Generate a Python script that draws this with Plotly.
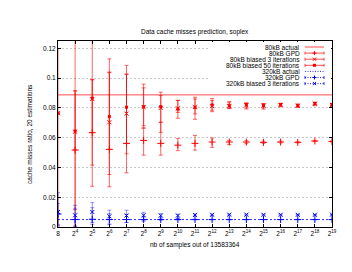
import math
import plotly.graph_objects as go

# ---------------- data ----------------
n_samples = [8, 16, 32, 64, 128, 256, 512, 1024, 2048, 4096, 8192, 16384,
             32768, 65536, 131072, 262144, 524288]
tick_text = ["8", "2<sup>4</sup>", "2<sup>5</sup>", "2<sup>6</sup>", "2<sup>7</sup>",
             "2<sup>8</sup>", "2<sup>9</sup>", "2<sup>10</sup>", "2<sup>11</sup>",
             "2<sup>12</sup>", "2<sup>13</sup>", "2<sup>14</sup>", "2<sup>15</sup>",
             "2<sup>16</sup>", "2<sup>17</sup>", "2<sup>18</sup>", "2<sup>19</sup>"]
y_ticks = [0, 0.02, 0.04, 0.06, 0.08, 0.1, 0.12]
y_tick_text = ["0", "0.02", "0.04", "0.06", "0.08", "0.1", "0.12"]

actual_80kb = 0.0888
actual_320kb = 0.0050

gpd_80_c = [None, 0.0517, 0.0634, 0.0522, 0.0562, 0.0582, 0.0562, 0.0550, 0.0562, 0.0571, 0.0571, 0.0571, 0.0569, 0.0571, 0.0569, 0.0578, 0.0575]
gpd_80_lo = [None, 0.0, 0.0274, 0.0270, 0.0364, 0.0483, 0.0483, 0.0513, 0.0517, 0.0535, 0.0555, 0.0560, 0.0562, 0.0565, 0.0565, 0.0574, 0.0572]
gpd_80_hi = [None, 0.13, 0.13, 0.1040, 0.1027, 0.0665, 0.0704, 0.0594, 0.0616, 0.0598, 0.0582, 0.0580, 0.0576, 0.0577, 0.0573, 0.0582, 0.0578]

b3_80_c = [0.0765, 0.0640, 0.0860, 0.0704, 0.0762, 0.0805, 0.0800, 0.0798, 0.0808, 0.0812, 0.0812, 0.0818, 0.0815, 0.0820, 0.0815, 0.0828, 0.0820]
b3_80_lo = [0.0010, 0.0117, 0.0416, 0.0353, 0.0492, 0.0665, 0.0636, 0.0770, 0.0760, 0.0785, 0.0795, 0.0800, 0.0800, 0.0808, 0.0805, 0.0815, 0.0810]
b3_80_hi = [0.1200, 0.0915, 0.0990, 0.1130, 0.1086, 0.0935, 0.0883, 0.0852, 0.0860, 0.0850, 0.0835, 0.0832, 0.0828, 0.0830, 0.0826, 0.0838, 0.0830]

b50_80_c = [0.0765, 0.0645, 0.0866, 0.0742, 0.0805, 0.0809, 0.0809, 0.0792, 0.0803, 0.0820, 0.0816, 0.0823, 0.0816, 0.0823, 0.0816, 0.0830, 0.0823]
b50_80_lo = [0.0765, 0.0520, 0.0634, 0.0522, 0.0562, 0.0681, 0.0704, 0.0731, 0.0724, 0.0775, 0.0798, 0.0793, 0.0792, 0.0812, 0.0808, 0.0822, 0.0815]
b50_80_hi = [0.0765, 0.0915, 0.0990, 0.1040, 0.1027, 0.0960, 0.0906, 0.0850, 0.0872, 0.0863, 0.0843, 0.0834, 0.0830, 0.0832, 0.0825, 0.0838, 0.0831]

gpd_320_c = [0.0087, 0.0050, 0.0052, 0.0050, 0.0050, 0.0050, 0.0050, 0.0050, 0.0050, 0.0050, 0.0050, 0.0050, 0.0050, 0.0050, 0.0050, 0.0050, 0.0050]
gpd_320_lo = [0.0016, 0.0007, 0.0030, 0.0020, 0.0030, 0.0041, 0.0045, 0.0047, 0.0048, 0.0048, 0.0049, 0.0049, 0.0049, 0.0049, 0.0049, 0.0049, 0.0049]
gpd_320_hi = [0.0158, 0.0126, 0.0130, 0.0090, 0.0085, 0.0068, 0.0060, 0.0056, 0.0053, 0.0052, 0.0052, 0.0051, 0.0051, 0.0051, 0.0051, 0.0051, 0.0051]

b3_320_c = [0.0101, 0.0079, 0.0101, 0.0072, 0.0077, 0.0079, 0.0077, 0.0077, 0.0081, 0.0082, 0.0083, 0.0083, 0.0082, 0.0082, 0.0082, 0.0082, 0.0083]
b3_320_lo = [0.0, 0.0, 0.0018, 0.0016, 0.0030, 0.0041, 0.0050, 0.0056, 0.0074, 0.0077, 0.0079, 0.0080, 0.0080, 0.0080, 0.0080, 0.0080, 0.0081]
b3_320_hi = [0.0232, 0.0146, 0.0164, 0.0113, 0.0113, 0.0099, 0.0090, 0.0086, 0.0088, 0.0087, 0.0087, 0.0086, 0.0085, 0.0085, 0.0084, 0.0084, 0.0085]

legend_labels = ["80kB actual", "80kB GPD", "80kB biased 3 iterations",
                 "80kB biased 50 iterations", "320kB actual", "320kB GPD",
                 "320kB biased 3 iterations"]

# ---------------- styling ----------------
RED = "rgb(255,0,0)"
RED_BAR = "rgba(255,0,0,0.6)"
BLUE = "rgb(0,0,255)"
BLUE_BAR = "rgba(0,0,255,0.4)"
FONT = "Liberation Sans, Arial, sans-serif"
FS = 6.5

W, H = 352, 272
L, R, T, B = 58, 20, 41, 45
X0, X1 = L, W - R
Y0, Y1 = T, H - B


def px2paper_x(px):
    return (px - X0) / (X1 - X0)


def px2paper_y(py):
    return (Y1 - py) / (Y1 - Y0)


def err(c, lo, hi):
    plus = [None if v is None else h - v for v, h in zip(c, hi)]
    minus = [None if v is None else v - l for v, l in zip(c, lo)]
    return plus, minus


fig = go.Figure()

# actual lines
fig.add_trace(go.Scatter(x=[n_samples[0], n_samples[-1]], y=[actual_80kb, actual_80kb],
                         mode="lines", line=dict(color=RED, width=1), opacity=0.7,
                         showlegend=False))
fig.add_trace(go.Scatter(x=[n_samples[0], n_samples[-1]], y=[actual_320kb, actual_320kb],
                         mode="lines", line=dict(color=BLUE, width=1, dash="2px,2px"),
                         opacity=0.8, showlegend=False))

series = [
    (gpd_80_c, gpd_80_lo, gpd_80_hi, RED, RED_BAR, "cross-thin", 5),
    (b3_80_c, b3_80_lo, b3_80_hi, RED, RED_BAR, "x-thin", 4),
    (b50_80_c, b50_80_lo, b50_80_hi, RED, RED_BAR, "square", 3),
    (gpd_320_c, gpd_320_lo, gpd_320_hi, BLUE, BLUE_BAR, "cross-thin", 5),
    (b3_320_c, b3_320_lo, b3_320_hi, BLUE, BLUE_BAR, "x-thin", 4),
]
for c, lo, hi, col, barcol, sym, sz in series:
    p, m = err(c, lo, hi)
    marker = dict(symbol=sym, size=sz, color=col, line=dict(color=col, width=1))
    if sym == "square":
        marker["line"] = dict(width=0)
    fig.add_trace(go.Scatter(
        x=n_samples, y=c, mode="markers", marker=marker, showlegend=False,
        error_y=dict(type="data", symmetric=False, array=p, arrayminus=m,
                     color=barcol, thickness=1, width=2)))

# ---------------- custom key (gnuplot style) ----------------
key_top = 47
key_step = 6.1
text_right = 302
s0, s1 = 305, 324
sm = (s0 + s1) / 2
kinds = [("line", RED, None, "solid"), ("bar", RED, "plus", "solid"),
         ("bar", RED, "x", "solid"), ("bar", RED, "square", "solid"),
         ("line", BLUE, None, "dot"), ("bar", BLUE, "plus", "dot"),
         ("bar", BLUE, "x", "dot")]

# blank key area (hides grid lines behind the key)
fig.add_shape(type="rect", xref="x2", yref="y2", x0=208, x1=X1 - 1, y0=Y0 + 1, y1=89,
              fillcolor="white", line=dict(width=0), layer="above")


def seg(xa, ya, xb, yb, col, dash="solid", op=1.0):
    fig.add_shape(type="line", xref="x2", yref="y2", x0=xa, y0=ya, x1=xb, y1=yb,
                  line=dict(color=col, width=1, dash=dash), opacity=op, layer="above")


for i, (lab, (kind, col, sym, dash)) in enumerate(zip(legend_labels, kinds)):
    yy = key_top + key_step * i
    d = "solid" if dash == "solid" else "1px,1.5px"
    op = 0.7 if col == RED else 0.85
    seg(s0, yy, s1, yy, col, d, op)
    if kind == "bar":
        seg(s0, yy - 1.5, s0, yy + 1.5, col, "solid", op)
        seg(s1, yy - 1.5, s1, yy + 1.5, col, "solid", op)
        if sym == "plus":
            seg(sm - 2, yy, sm + 2, yy, col)
            seg(sm, yy - 2, sm, yy + 2, col)
        elif sym == "x":
            seg(sm - 1.6, yy - 1.6, sm + 1.6, yy + 1.6, col)
            seg(sm - 1.6, yy + 1.6, sm + 1.6, yy - 1.6, col)
        else:
            fig.add_shape(type="rect", xref="x2", yref="y2", x0=sm - 1.5, x1=sm + 1.5,
                          y0=yy - 1.5, y1=yy + 1.5, fillcolor=col, line=dict(width=0),
                          layer="above")
    fig.add_annotation(x=text_right, y=yy, xref="x2", yref="y2", text=lab, showarrow=False,
                       xanchor="right", yanchor="middle", font=dict(size=FS, color="black"))

# titles (paper coordinates so they are not hidden outside axis ranges)
fig.add_annotation(x=0.5, y=px2paper_y(32), xref="paper", yref="paper",
                   text="Data cache misses prediction, soplex", showarrow=False,
                   xanchor="center", yanchor="middle", font=dict(size=FS, color="black"))
fig.add_annotation(x=0.5, y=px2paper_y(245), xref="paper", yref="paper",
                   text="nb of samples out of 13583364", showarrow=False,
                   xanchor="center", yanchor="middle", font=dict(size=FS, color="black"))
fig.add_annotation(x=px2paper_x(29), y=0.5, xref="paper", yref="paper",
                   text="cache misses ratio, 20 estimations", showarrow=False, textangle=-90,
                   xanchor="center", yanchor="middle", font=dict(size=FS, color="black"))

fig.update_layout(
    width=W, height=H, margin=dict(l=L, r=R, t=T, b=B, pad=0),
    paper_bgcolor="white", plot_bgcolor="white",
    font=dict(family=FONT, size=FS, color="black"),
    showlegend=False,
    xaxis=dict(type="log", range=[math.log10(n_samples[0]), math.log10(n_samples[-1])],
               tickvals=n_samples, ticktext=tick_text, ticks="inside", ticklen=3,
               tickcolor="black", showline=True, linecolor="black", linewidth=1,
               mirror="ticks", showgrid=False, zeroline=False,
               tickfont=dict(size=FS)),
    yaxis=dict(range=[0, 0.125], tickvals=y_ticks, ticktext=y_tick_text, ticks="inside",
               ticklen=3, tickcolor="black", showline=True, linecolor="black", linewidth=1,
               mirror="ticks", showgrid=True, gridcolor="#c8c8c8", griddash="2px,2px",
               gridwidth=1, zeroline=False, tickfont=dict(size=FS)),
    xaxis2=dict(overlaying="x", range=[X0, X1], visible=False, anchor="y2", fixedrange=True),
    yaxis2=dict(overlaying="y", range=[Y1, Y0], visible=False, anchor="x2", fixedrange=True),
)

fig.write_html("out.html", config={"displayModeBar": False, "staticPlot": True},
               post_script="document.body.style.margin='0';")
